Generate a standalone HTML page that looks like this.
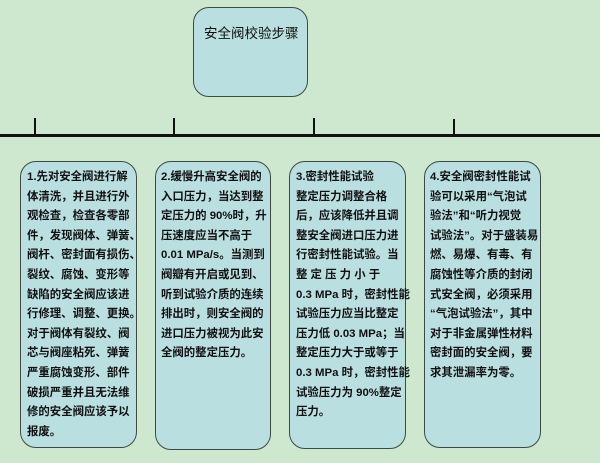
<!DOCTYPE html>
<html><head><meta charset="utf-8"><style>
body{margin:0;width:600px;height:463px;background:#cde8cf;position:relative;overflow:hidden;font-family:"Liberation Sans","Noto Sans CJK SC",sans-serif;}
.b{position:absolute;background:#badfe0;border:1.5px solid #3c4a42;border-radius:16px;box-sizing:border-box;}
.t{position:absolute;font-size:11.4px;font-weight:bold;color:#111;line-height:19.6px;white-space:nowrap;}
.l{position:absolute;background:#111;}
</style></head><body>
<div class="b" style="left:193px;top:7px;width:115px;height:90px;"></div>
<div class="t" style="left:204px;top:24px;font-size:13.5px;font-weight:normal;">安全阀校验步骤</div>
<div class="l" style="left:0;top:134px;width:600px;height:3px;"></div>
<div class="l" style="left:34px;top:118px;width:2px;height:17px;"></div>
<div class="l" style="left:173px;top:118px;width:2px;height:17px;"></div>
<div class="l" style="left:313px;top:118px;width:2px;height:17px;"></div>
<div class="l" style="left:453px;top:119px;width:2px;height:16px;"></div>

<div class="b" style="left:20px;top:161px;width:117px;height:287px;"></div>
<div class="t" style="left:27px;top:168px;">1.先对安全阀进行解<br>体清洗，并且进行外<br>观检查，检查各零部<br>件，发现阀体、弹簧、<br>阀杆、密封面有损伤、<br>裂纹、腐蚀、变形等<br>缺陷的安全阀应该进<br>行修理、调整、更换。<br>对于阀体有裂纹、阀<br>芯与阀座粘死、弹簧<br>严重腐蚀变形、部件<br>破损严重并且无法维<br>修的安全阀应该予以<br>报废。</div>

<div class="b" style="left:155px;top:161px;width:116px;height:289px;"></div>
<div class="t" style="left:161px;top:168px;">2.缓慢升高安全阀的<br>入口压力，当达到整<br>定压力的 90%时，升<br>压速度应当不高于<br>0.01 MPa/s。当测到<br>阀瓣有开启或见到、<br>听到试验介质的连续<br>排出时，则安全阀的<br>进口压力被视为此安<br>全阀的整定压力。</div>

<div class="b" style="left:289px;top:161px;width:117px;height:288px;"></div>
<div class="t" style="left:296px;top:168px;">3.密封性能试验<br>整定压力调整合格<br>后，应该降低并且调<br>整安全阀进口压力进<br>行密封性能试验。当<br>整 定 压 力 小 于<br>0.3 MPa 时，密封性能<br>试验压力应当比整定<br>压力低 0.03 MPa；当<br>整定压力大于或等于<br>0.3 MPa 时，密封性能<br>试验压力为 90%整定<br>压力。</div>

<div class="b" style="left:424px;top:161px;width:117px;height:287px;"></div>
<div class="t" style="left:430px;top:168px;">4.安全阀密封性能试<br>验可以采用“气泡试<br>验法”和“听力视觉<br>试验法”。对于盛装易<br>燃、易爆、有毒、有<br>腐蚀性等介质的封闭<br>式安全阀，必须采用<br>“气泡试验法”，其中<br>对于非金属弹性材料<br>密封面的安全阀，要<br>求其泄漏率为零。</div>
</body></html>
